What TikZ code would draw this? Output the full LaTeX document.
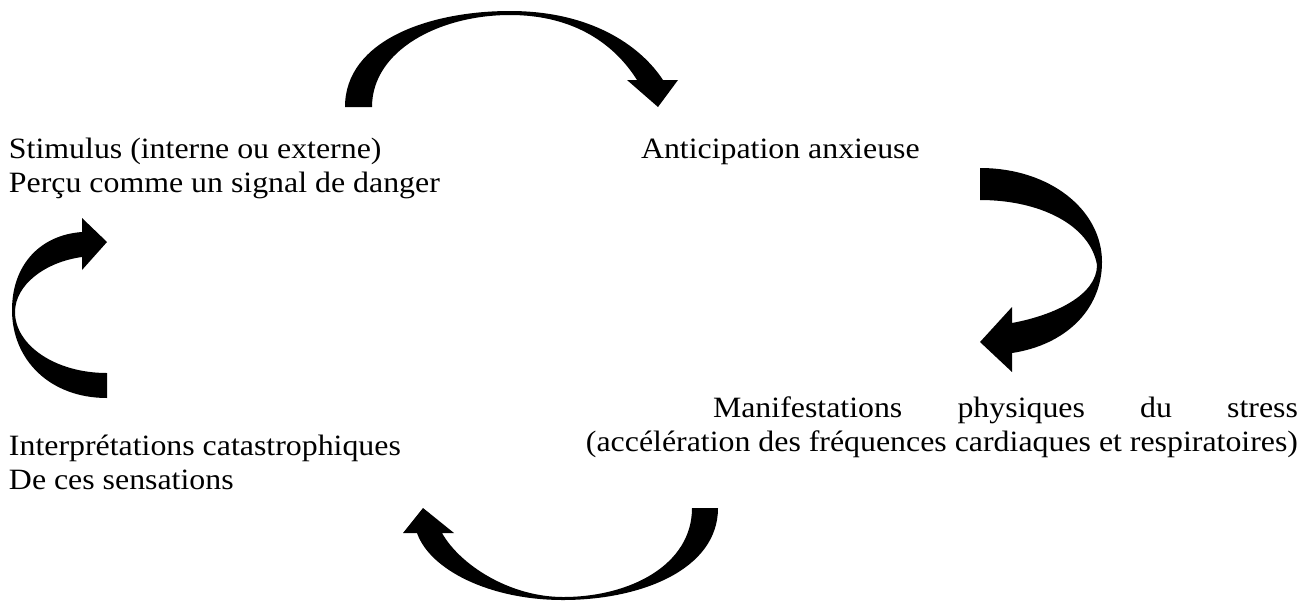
\documentclass[tikz,border=0pt]{standalone}
\usepackage{fontspec}
\setmainfont[FakeStretch=1.08]{Liberation Serif}
\begin{document}
\begin{tikzpicture}[x=1pt,y=-1pt,
  lbl/.style={inner sep=0pt,outer sep=0pt,font=\fontsize{29.5}{34}\selectfont},
  blockarrow/.style={fill=black,draw=none}]
\useasboundingbox (0,0) rectangle (1308,603);
% texts
\node[lbl,anchor=base west] (stim1) at (9,158) {Stimulus (interne ou externe)};
\node[lbl,anchor=base west] (stim2) at (9,192) {Perçu comme un signal de danger};
\node[lbl,anchor=base west] (antic) at (641,158) {Anticipation anxieuse};
\node[lbl,anchor=base east] (manif1) at (1298,417) {\makebox[585pt][s]{Manifestations\hfill physiques\hfill du\hfill stress}};
\node[lbl,anchor=base east] (manif2) at (1298,451) {(accélération des fréquences cardiaques et respiratoires)};
\node[lbl,anchor=base west] (interp1) at (9,455) {Interprétations catastrophiques};
\node[lbl,anchor=base west] (interp2) at (9,489) {De ces sensations};
% top arrow
\fill[blockarrow] (345,107) .. controls (345,40) and (430,11) .. (510,11)
  .. controls (590,11) and (640,45) .. (663,80)
  -- (678,80) -- (658,107) -- (627,80) -- (637,80)
  .. controls (615,45) and (575,15) .. (510,15)
  .. controls (440,15) and (372,50) .. (372,107) -- cycle;
% right arrow
\fill[blockarrow] (980,168) .. controls (1050,168) and (1102,210) .. (1102,262)
  .. controls (1102,310) and (1065,345) .. (1012,353)
  -- (1012,372) -- (980,342) -- (1012,307) -- (1012,323)
  .. controls (1055,315) and (1097,295) .. (1097,265)
  .. controls (1090,225) and (1040,200) .. (980,200) -- cycle;
% bottom arrow
\fill[blockarrow] (718,508) .. controls (718,570) and (640,600) .. (563,600)
  .. controls (490,600) and (430,570) .. (417,533)
  -- (403,533) -- (423,508) -- (454,533) -- (442,533)
  .. controls (460,565) and (510,597) .. (563,597)
  .. controls (630,597) and (692,565) .. (692,508) -- cycle;
% left arrow
\fill[blockarrow] (107,398) .. controls (50,398) and (12,360) .. (12,310)
  .. controls (12,265) and (40,235) .. (82,232)
  -- (82,218) -- (107,242) -- (82,270) -- (82,257)
  .. controls (45,262) and (15,285) .. (15,312)
  .. controls (15,345) and (55,373) .. (107,373) -- cycle;
\end{tikzpicture}
\end{document}
